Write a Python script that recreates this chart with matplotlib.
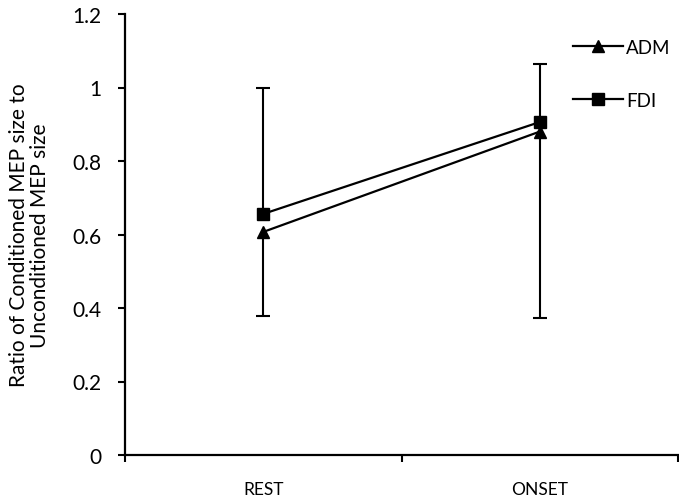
import matplotlib.pyplot as plt

plt.rcParams['font.family'] = ['Lato', 'DejaVu Sans']

conditions = ['REST', 'ONSET']

adm_mean = [0.607, 0.880]
adm_err_low = [0.229, 0.507]

fdi_mean = [0.656, 0.906]
fdi_err_high = [0.344, 0.158]


def main():
    fig = plt.figure(figsize=(6.79, 5.02), dpi=100)
    ax = fig.add_axes([125 / 679, 46 / 502, 553 / 679, 441 / 502])

    x = list(range(len(conditions)))
    zeros = [0] * len(conditions)

    # ADM: error bar drawn below the mean only
    adm_line, caps, bars = ax.errorbar(x, adm_mean, yerr=[adm_err_low, zeros],
                                       color='black', lw=1.6, marker='^', ms=8,
                                       capsize=5, elinewidth=1.5, capthick=1.5,
                                       zorder=3)
    caps[1].set_visible(False)

    # FDI: error bar drawn above the mean only
    fdi_line, caps, bars = ax.errorbar(x, fdi_mean, yerr=[zeros, fdi_err_high],
                                       color='black', lw=1.6, marker='s', ms=8,
                                       capsize=5, elinewidth=1.5, capthick=1.5,
                                       zorder=3)
    caps[0].set_visible(False)

    ax.set_xlim(-0.5, 1.5)
    ax.set_ylim(0, 1.2)
    ax.set_yticks([0, 0.2, 0.4, 0.6, 0.8, 1.0, 1.2])
    ax.set_yticklabels(['0', '0.2', '0.4', '0.6', '0.8', '1', '1.2'])

    # category boundaries get the tick marks, names sit in between
    ax.set_xticks([-0.5, 0.5, 1.5])
    ax.set_xticklabels([])
    ax.set_xticks(x, minor=True)
    ax.set_xticklabels(conditions, minor=True)
    ax.tick_params(axis='x', which='minor', length=0, pad=19, labelsize=12.5)
    ax.tick_params(axis='x', which='major', direction='out', length=5, width=1.5)
    ax.tick_params(axis='y', direction='out', length=5, width=1.5,
                   labelsize=15, pad=12)

    for side in ['top', 'right']:
        ax.spines[side].set_visible(False)
    for side in ['left', 'bottom']:
        ax.spines[side].set_linewidth(1.6)

    ax.set_ylabel('Ratio of Conditioned MEP size to\nUnconditioned MEP size',
                  fontsize=15, labelpad=16, multialignment='center',
                  linespacing=1.05)

    ax.legend([adm_line, fdi_line], ['ADM', 'FDI'], loc='upper left',
              bbox_to_anchor=(573 / 679, 1 - 40 / 502),
              bbox_transform=fig.transFigure, frameon=False, numpoints=1,
              handlelength=2.65, handletextpad=0.2, labelspacing=1.9,
              borderpad=0, borderaxespad=0, fontsize=13.5)

    plt.savefig('out.png', dpi=100)


if __name__ == '__main__':
    main()
